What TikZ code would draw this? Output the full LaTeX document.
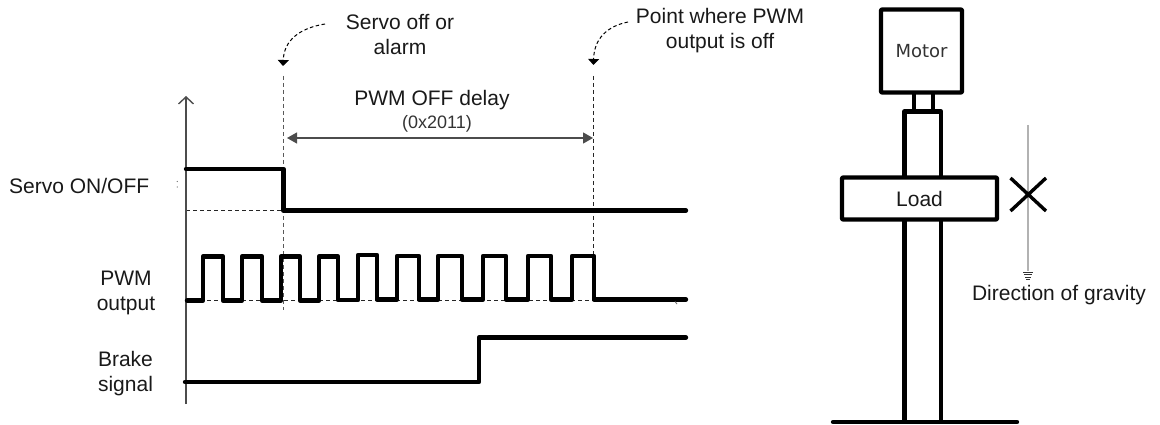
\documentclass[tikz,border=0pt]{standalone}
\usepackage{fontspec}
\setmainfont{Liberation Sans}
\newfontfamily\motorfont{DejaVu Sans}
\usetikzlibrary{arrows.meta}
\tikzset{
  x=1pt,y=-1pt,
  lbl/.style={inner sep=0pt,align=center,font=\fontsize{21}{25}\selectfont,text=black!90},
  sig/.style={line width=4.4pt,line join=round,line cap=round,black},
  thin dash/.style={line width=1pt,dash pattern=on 4pt off 3pt,black!85},
  mech/.style={line width=4.4pt,line join=round,black},
  note/.style={line width=1pt,dash pattern=on 3.5pt off 2.5pt,black,-{Triangle[length=6pt,width=11pt,black]}}
}
\begin{document}
\begin{tikzpicture}
\useasboundingbox (0,0) rectangle (1160,425);
% coordinates
\coordinate (ab) at (186,404); \coordinate (at) at (186,96);
\coordinate (v1t) at (283,76); \coordinate (v1b) at (283,310);
\coordinate (v2t) at (593.5,76); \coordinate (v2b) at (593.5,300);
\coordinate (dl) at (287,138); \coordinate (dr) at (593,138);
% labels
\node[lbl] (n1) at (400,35) {Servo off or\\alarm};
\node[lbl] (n2) at (720,31) {Point where PWM\\output is off};
\node[lbl] (n3) at (432,100) {PWM OFF delay};
\node[inner sep=0pt,font=\fontsize{18}{21}\selectfont,text=black!80] (n4) at (437,124) {(0x2011)};
\node[lbl,anchor=west] (n5) at (9,186) {Servo ON/OFF};
\node[lbl] (n6) at (126,292.5) {PWM\\output};
\node[lbl] (n7) at (125.5,374) {Brake\\signal};
\coordinate (c1) at (325,24); \coordinate (c2) at (283,66);
\coordinate (c3) at (628,22); \coordinate (c4) at (593.5,65);
% guides
\draw[thin dash,black!65] (v1t) -- (v1b);
\draw[thin dash] (v2t) -- (v2b);
\draw[thin dash] (186,210.5) -- (283,210.5);
\draw[thin dash] (186,300) -- (594,300);
\draw[note] (c1) .. controls (300,28) and (284,40) .. (c2);
\draw[note] (c3) .. controls (608,26) and (594,38) .. (c4);
% axis
\draw[line width=1.6pt,black!70,-{Straight Barb[length=7pt,width=15pt,line width=1.4pt]}] (ab) -- (at);
% delay arrow
\draw[line width=1.3pt,black!70,{Triangle[length=10pt,width=11pt]}-{Triangle[length=10pt,width=11pt]}] (dl) -- (dr);
% signals
\draw[sig] (186,169) -- (283.5,169) -- (283.5,210.5) -- (686,210.5);
\draw[sig] (187,300.5) -- (203,300.5) -- (203,256.5) -- (223,256.5) -- (223,300.5)
  -- (242,300.5) -- (242,256.5) -- (262,256.5) -- (262,300.5)
  -- (281,300.5) -- (281,256.5) -- (300,256.5) -- (300,300.5)
  -- (319,300.5) -- (319,256.5) -- (338,256.5) -- (338,300)
  -- (358,300) -- (358,255) -- (377,255) -- (377,299.5)
  -- (397,299.5) -- (397,256) -- (419,256) -- (419,299.5)
  -- (438,299.5) -- (438,256) -- (462,256) -- (462,299.5)
  -- (483,299.5) -- (483,256) -- (506,256) -- (506,299.5)
  -- (528,299.5) -- (528,256) -- (551,256) -- (551,299.5)
  -- (572,299.5) -- (572,256) -- (594,256) -- (594,299.5) -- (686,299.5);
\draw[sig] (185,382) -- (479,382) -- (479,337.5) -- (686,337.5);
% specks
\draw[line width=.8pt,black!60] (675,301.5) -- (677,304);
\fill[black!60] (177.2,181.5) circle (.7pt) (177.2,187) circle (.7pt);
% mechanism
\node[draw,mech,minimum width=81pt,minimum height=83pt,inner sep=0pt,rounded corners=1pt,font=\motorfont\fontsize{18}{21}\selectfont,text=black!80] (motor) at (921.5,51) {Motor};
\coordinate (s1) at (914,93); \coordinate (s2) at (932.7,93);
\coordinate (s1b) at (914,110); \coordinate (s2b) at (932.7,110);
\draw[mech] (s1) -- (s1b) (s2) -- (s2b);
\coordinate (c1b) at (904.5,178); \coordinate (c2b) at (941,178);
\draw[mech] (c1b) -- (904.5,111.5) -- (941,111.5) -- (c2b);
\node[draw,mech,minimum width=155pt,minimum height=42pt,inner sep=0pt,rounded corners=1pt,font=\fontsize{21}{24}\selectfont,text=black!90] (load) at (919.5,198.5) {Load};
\coordinate (bl) at (833,422); \coordinate (br) at (1017,422);
\draw[mech] (904.5,219.5) -- (904.5,422) (941,219.5) -- (941,422);
\draw[mech,line cap=round] (bl) -- (br);
% gravity
\coordinate (g1) at (1028,125); \coordinate (g2) at (1028,271);
\draw[line width=1.4pt,black!30] (g1) -- (g2);
\foreach \y/\w in {272/5,274.5/4.2,277/3,279/1.6}
  \draw[line width=1pt,black!80] (1028-\w,\y) -- (1028+\w,\y);
\coordinate (x1) at (1010.5,178); \coordinate (x2) at (1046,211);
\coordinate (x3) at (1046,178); \coordinate (x4) at (1010.5,211);
\draw[line width=3.4pt,black] (x1) -- (x2) (x3) -- (x4);
\node[lbl] (n8) at (1059,295) {Direction of gravity};
\end{tikzpicture}
\end{document}
